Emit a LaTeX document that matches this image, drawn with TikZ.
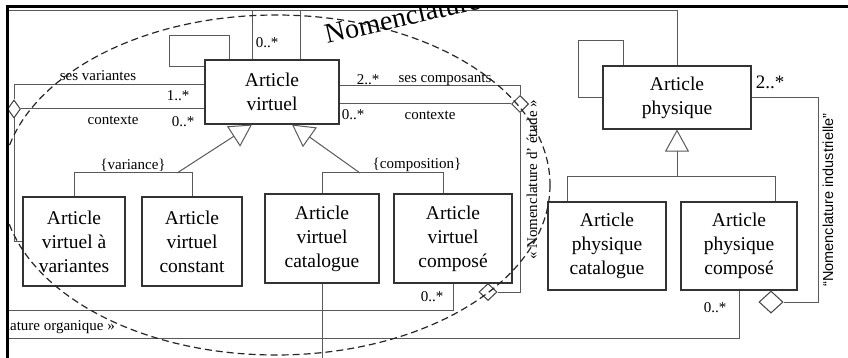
\documentclass[tikz,border=0pt]{standalone}
\usepackage{fontspec}
\setmainfont{Liberation Serif}
\newfontfamily\sanslabel{Liberation Sans}
\usetikzlibrary{shapes.geometric, arrows.meta, positioning, calc}
\tikzset{
  %% Class box
  cbox/.style={
    rectangle, draw=black!80, fill=white,
    align=center, inner sep=2pt, line width=1.1pt,
    font=\fontsize{19.5}{24}\selectfont
  },
  %% Association line
  assoc/.style={draw=black!65, line width=1pt},
  %% Generalisation (open triangle)
  gen/.style={assoc, -{Triangle[open, length=22pt, width=24pt]}},
  %% Aggregation diamond
  agg/.style={
    diamond, draw=black!75, fill=white,
    inner sep=0pt, line width=1pt
  },
  %% Role / multiplicity label
  lbl/.style={font=\fontsize{15}{18}\selectfont, inner sep=0pt},
}

\begin{document}
\begin{tikzpicture}[x=1pt, y=-1pt]
  \useasboundingbox (0,0) rectangle (848,358);

  \begin{scope}
  \clip (8,8) rectangle (848,358);

  %% Classes
  \node[cbox, minimum width=134pt, minimum height=64pt] (av) at (272,92) {Article\\virtuel};
  \node[cbox, minimum width=148pt, minimum height=63pt] (ap) at (677,97.5) {Article\\physique};
  \node[cbox, minimum width=102pt, minimum height=89pt] (avv) at (74,241.5) {Article\\virtuel à\\variantes};
  \node[cbox, minimum width=100pt, minimum height=89pt] (avc) at (192,241.5) {Article\\virtuel\\constant};
  \node[cbox, minimum width=114pt, minimum height=89pt] (avcat) at (322,238.5) {Article\\virtuel\\catalogue};
  \node[cbox, minimum width=118pt, minimum height=89pt] (avcomp) at (453,238.5) {Article\\virtuel\\composé};
  \node[cbox, minimum width=118pt, minimum height=88pt] (apcat) at (607,246) {Article\\physique\\catalogue};
  \node[cbox, minimum width=116pt, minimum height=88pt] (apcomp) at (739,246) {Article\\physique\\composé};

  %% Aggregation ends
  \node[agg, minimum width=13pt, minimum height=18pt] (dl) at (14,109) {};
  \node[agg, minimum width=17pt, minimum height=17pt] (dr) at (520,104) {};
  \node[agg, minimum width=18pt, minimum height=17pt] (dc) at (488,292) {};
  \node[agg, minimum width=24pt, minimum height=22pt, anchor=north] (dp) at ([xshift=32pt]apcomp.south) {};

  %% Self loops
  \draw[assoc] ([xshift=25pt]av.north west) -- ++(0,-24) -- ++(-60,0) |- ([yshift=-7pt]av.north west);
  \draw[assoc] ([xshift=21pt]ap.north west) -- ++(0,-25) -- ++(-45,0) |- ([yshift=-32pt]ap.north west);

  %% Lines to the top
  \draw[assoc] ([xshift=-20pt]av.north) -- ++(0,-49);
  \draw[assoc] ([xshift=28pt]av.north) -- ++(0,-49);
  \draw[assoc] (ap.north) |- (0,11);
  \node[lbl] at (267,43) {0..*};

  %% ses variantes / contexte
  \draw[assoc] (av.west |- 0,85) -| (dl.north);
  \draw[assoc] (av.west |- 0,109) -- (dl.east);
  \draw[assoc] (dl.south) |- (avv.west);
  \node[lbl] at (98,76) {ses variantes};
  \node[lbl] at (178,96) {1..*};
  \node[lbl] at (113,120) {contexte};
  \node[lbl] at (183,122) {0..*};

  %% ses composants / contexte
  \draw[assoc] (av.east |- 0,86) -| (dr.north);
  \draw[assoc] (av.east |- 0,104) -- (dr.west);
  \draw[assoc] (dr.south) |- (dc.east);
  \node[lbl] at (368,80) {2..*};
  \node[lbl] at (445,80) {ses composants};
  \node[lbl] at (353,115) {0..*};
  \node[lbl] at (430,115) {contexte};
  \node[lbl, rotate=90] at (532,180) {« Nomenclature d' étude »};

  %% {variance}
  \coordinate (var) at (177,173);
  \draw[assoc] (avv.north) -- ++(0,-24) -| (avc.north);
  \draw[gen] (var) -- ([xshift=-20pt]av.south);
  \node[lbl] at (133,165) {\{variance\}};

  %% {composition}
  \coordinate (comp) at (360,173);
  \draw[assoc] (avcat.north) -- ++(0,-21) -| ([xshift=-10pt]avcomp.north);
  \draw[gen] (comp) -- ([xshift=20pt]av.south);
  \node[lbl] at (417,165) {\{composition\}};

  %% Article physique subclasses
  \coordinate (phys) at (ap.south |- 0,177);
  \draw[assoc] ([xshift=-40pt]apcat.north) -- ++(0,-25) -| ([xshift=36pt]apcomp.north);
  \draw[gen] (phys) -- (ap.south);

  %% Nomenclature industrielle
  \draw[assoc] (ap.east |- 0,98) -| ([xshift=35pt]dp.east) |- (dp.east);
  \node[lbl, font=\fontsize{19}{22}\selectfont] at (770,82) {2..*};
  \node[lbl, font=\sanslabel\fontsize{14.5}{17}\selectfont, rotate=90] at (828,200) {“Nomenclature industrielle”};

  %% Nomenclature organique
  \draw[assoc] (avcomp.south) |- (0,310);
  \draw[assoc] (apcomp.south) |- (0,338);
  \draw[assoc] (avcat.south) -- ++(0,80);
  \node[lbl] at (432,297) {0..*};
  \node[lbl] at (715,308) {0..*};
  \node[lbl, anchor=east] at (115,327) {« Nomenclature organique »};

  %% Nomenclature boundary
  \draw[black!85, line width=1.2pt, dash pattern=on 7pt off 4pt]
    (276,185) ellipse [x radius=274, y radius=170];
  \node[anchor=base west, rotate=13, inner sep=0pt,
        font=\fontsize{28}{30}\selectfont] (nom) at (327,44) {Nomenclature};
  \end{scope}

  %% Frame
  \draw[line width=3pt] (7,358) -- (7,7) -- (848,7);
\end{tikzpicture}
\end{document}
